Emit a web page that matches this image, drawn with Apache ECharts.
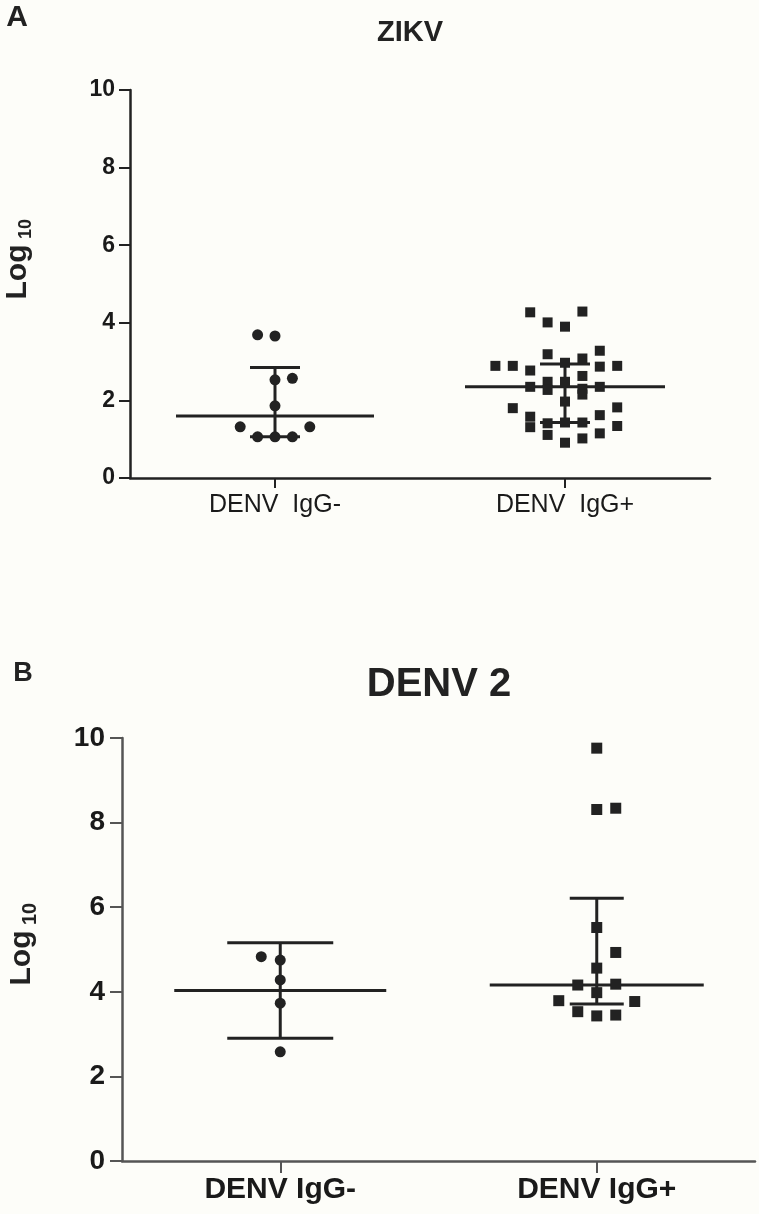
<!DOCTYPE html>
<html><head><meta charset="utf-8">
<script src="https://cdn.jsdelivr.net/npm/echarts@6/dist/echarts.min.js"></script>
<style>html,body{margin:0;padding:0;background:#fdfdf9}#c{width:759px;height:1214px}</style>
</head><body><div id="c"></div>
<script>
// ---------- data ----------
const categoriesA = ['DENV  IgG-', 'DENV  IgG+'];
const categoriesB = ['DENV IgG-', 'DENV IgG+'];
const yTickValues = [0, 2, 4, 6, 8, 10];

// Panel A (ZIKV): [group position incl. horizontal jitter, log10 value]
const zikvNeg = [[0.94,3.69],[1.00,3.66],[1.00,2.53],[1.06,2.57],[1.00,1.86],[0.88,1.32],[1.12,1.32],[0.94,1.06],[1.00,1.06],[1.06,1.06]];
const zikvPos = [[1.88,4.27],[2.06,4.29],[1.94,4.01],[2.00,3.90],[2.12,3.28],[1.94,3.19],[2.00,2.97],[2.06,3.08],
  [1.76,2.89],[1.82,2.89],[1.88,2.77],[2.12,2.87],[2.18,2.89],[2.06,2.63],[1.88,2.35],[1.94,2.48],[1.94,2.27],
  [2.00,2.48],[2.06,2.30],[2.06,2.15],[2.12,2.35],[2.00,1.97],[1.82,1.80],[1.88,1.58],[1.88,1.31],[2.18,1.82],
  [2.12,1.62],[1.94,1.41],[1.94,1.11],[2.00,1.43],[2.06,1.43],[2.18,1.34],[2.12,1.15],[2.06,1.02],[2.00,0.91]];
// [group, centre line, lower bar, upper bar]
const zikvSummary = [[1, 1.60, 1.06, 2.85], [2, 2.35, 1.43, 2.94]];

// Panel B (DENV 2)
const denvNeg = [[0.94,4.83],[1.00,4.75],[1.00,4.28],[1.00,3.73],[1.00,2.58]];
const denvPos = [[2.00,9.76],[2.00,8.31],[2.06,8.34],[2.00,5.52],[2.06,4.93],[2.00,4.56],[1.94,4.16],[2.06,4.18],
  [2.00,3.98],[1.88,3.79],[2.12,3.77],[1.94,3.53],[2.00,3.43],[2.06,3.45]];
const denvSummary = [[1, 4.03, 2.90, 5.16], [2, 4.16, 3.71, 6.21]];

// ---------- chart ----------
const FONT = "'Liberation Sans', Arial, sans-serif";
const INK = '#222';
const chart = echarts.init(document.getElementById('c'), null, {renderer: 'canvas'});

function summaryRender(medianHalf, capHalf) {
  return function (params, api) {
    const g = api.value(0);
    const pm = api.coord([g, api.value(1)]);
    const pl = api.coord([g, api.value(2)]);
    const ph = api.coord([g, api.value(3)]);
    const mh = medianHalf[params.dataIndex], ch = capHalf[params.dataIndex];
    const style = {stroke: INK, lineWidth: 3};
    return {type: 'group', children: [
      {type: 'line', shape: {x1: pm[0] - mh, y1: pm[1], x2: pm[0] + mh, y2: pm[1]}, style},
      {type: 'line', shape: {x1: pl[0], y1: pl[1], x2: ph[0], y2: ph[1]}, style},
      {type: 'line', shape: {x1: ph[0] - ch, y1: ph[1], x2: ph[0] + ch, y2: ph[1]}, style},
      {type: 'line', shape: {x1: pl[0] - ch, y1: pl[1], x2: pl[0] + ch, y2: pl[1]}, style}
    ]};
  };
}

function xAxisCfg(gridIndex, cats, opts) {
  return {
    type: 'value', gridIndex, min: 0.5, max: 2.5,
    splitLine: {show: false},
    axisLine: {show: true, onZero: false, lineStyle: {color: opts.axisColor, width: opts.axisWidth}},
    axisTick: {show: true, customValues: [1, 2], length: opts.tickLen, lineStyle: {color: opts.axisColor, width: 2}},
    axisLabel: {customValues: [1, 2], formatter: v => cats[Math.round(v) - 1], margin: opts.labelMargin,
      fontFamily: FONT, fontSize: opts.labelSize, fontWeight: opts.labelWeight, color: '#1a1a1a'}
  };
}
function yAxisCfg(gridIndex, opts) {
  return {
    type: 'value', gridIndex, min: yTickValues[0], max: yTickValues[yTickValues.length - 1], interval: 2,
    splitLine: {show: false},
    axisLine: {show: true, lineStyle: {color: opts.axisColor, width: opts.axisWidth}},
    axisTick: {show: true, length: opts.tickLen, lineStyle: {color: opts.axisColor, width: 2}},
    axisLabel: {margin: opts.labelMargin, fontFamily: FONT, fontSize: opts.labelSize, fontWeight: opts.labelWeight, color: '#1a1a1a'}
  };
}

const optA = {axisColor: '#222', axisWidth: 2.5};
const optB = {axisColor: '#555', axisWidth: 2.5};

chart.setOption({
  backgroundColor: '#fdfdf9',
  animation: false,
  grid: [
    {left: 130, right: 49, top: 90, bottom: 736},
    {left: 122, right: 4, top: 738, bottom: 53}
  ],
  xAxis: [
    xAxisCfg(0, categoriesA, Object.assign({}, optA, {tickLen: 10, labelMargin: 15, labelSize: 25, labelWeight: 'normal'})),
    xAxisCfg(1, categoriesB, Object.assign({}, optB, {tickLen: 12, labelMargin: 14, labelSize: 30, labelWeight: 'bold'}))
  ],
  yAxis: [
    yAxisCfg(0, Object.assign({}, optA, {tickLen: 11, labelMargin: 15, labelSize: 23, labelWeight: 'bold'})),
    yAxisCfg(1, Object.assign({}, optB, {tickLen: 12, labelMargin: 17, labelSize: 28, labelWeight: 'bold'}))
  ],
  graphic: [
    {type: 'text', x: 17, y: 18, style: {text: 'A', fontFamily: FONT, fontSize: 30, fontWeight: 'bold', fill: INK, textAlign: 'center', textVerticalAlign: 'middle'}},
    {type: 'text', x: 410, y: 33, style: {text: 'ZIKV', fontFamily: FONT, fontSize: 29, fontWeight: 'bold', fill: INK, textAlign: 'center', textVerticalAlign: 'middle'}},
    {type: 'text', x: 18, y: 272, rotation: Math.PI / 2, style: {text: 'Log', fontFamily: FONT, fontSize: 30, fontWeight: 'bold', fill: INK, textAlign: 'center', textVerticalAlign: 'middle'}},
    {type: 'text', x: 26, y: 229, rotation: Math.PI / 2, style: {text: '10', fontFamily: FONT, fontSize: 18, fontWeight: 'bold', fill: INK, textAlign: 'center', textVerticalAlign: 'middle'}},
    {type: 'text', x: 23, y: 674, style: {text: 'B', fontFamily: FONT, fontSize: 27, fontWeight: 'bold', fill: INK, textAlign: 'center', textVerticalAlign: 'middle'}},
    {type: 'text', x: 439, y: 685, style: {text: 'DENV 2', fontFamily: FONT, fontSize: 40, fontWeight: 'bold', fill: INK, textAlign: 'center', textVerticalAlign: 'middle'}},
    {type: 'text', x: 22, y: 958, rotation: Math.PI / 2, style: {text: 'Log', fontFamily: FONT, fontSize: 30, fontWeight: 'bold', fill: INK, textAlign: 'center', textVerticalAlign: 'middle'}},
    {type: 'text', x: 30, y: 914, rotation: Math.PI / 2, style: {text: '10', fontFamily: FONT, fontSize: 20, fontWeight: 'bold', fill: INK, textAlign: 'center', textVerticalAlign: 'middle'}}
  ],
  series: [
    {type: 'custom', xAxisIndex: 0, yAxisIndex: 0, data: zikvSummary, encode: {x: 0, y: [1, 2, 3]},
      renderItem: summaryRender([99, 100], [25, 25]), z: 3},
    {type: 'scatter', xAxisIndex: 0, yAxisIndex: 0, data: zikvNeg, symbol: 'circle', symbolSize: 11, itemStyle: {color: INK, opacity: 1}, z: 4},
    {type: 'scatter', xAxisIndex: 0, yAxisIndex: 0, data: zikvPos, symbol: 'rect', symbolSize: 10, itemStyle: {color: INK, opacity: 1}, z: 4},
    {type: 'custom', xAxisIndex: 1, yAxisIndex: 1, data: denvSummary, encode: {x: 0, y: [1, 2, 3]},
      renderItem: summaryRender([106, 107], [53, 27]), z: 3},
    {type: 'scatter', xAxisIndex: 1, yAxisIndex: 1, data: denvNeg, symbol: 'circle', symbolSize: 11, itemStyle: {color: INK, opacity: 1}, z: 4},
    {type: 'scatter', xAxisIndex: 1, yAxisIndex: 1, data: denvPos, symbol: 'rect', symbolSize: 11, itemStyle: {color: INK, opacity: 1}, z: 4}
  ]
});
</script>
</body></html>
